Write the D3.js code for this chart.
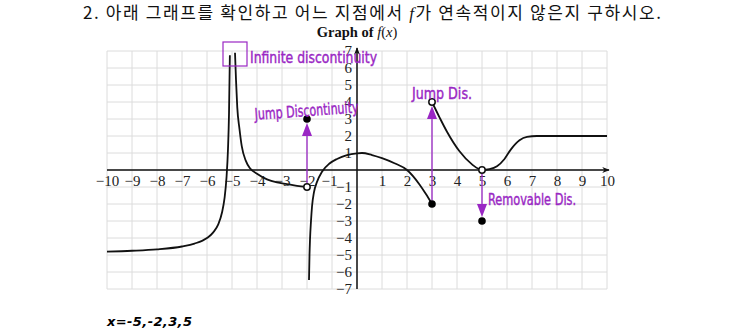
<!DOCTYPE html>
<html>
<head>
<meta charset="utf-8">
<script src="https://cdn.jsdelivr.net/npm/d3@7"></script>
<style>
  body { margin: 0; background: #fff; }
  svg { display: block; }
</style>
</head>
<body>
<svg id="chart" width="743" height="331"></svg>
<script>
// Tick values for the axes
var xTicks = [-10, -9, -8, -7, -6, -5, -4, -3, -2, -1, 1, 2, 3, 4, 5, 6, 7, 8, 9, 10];
var yTicks = [-7, -6, -5, -4, -3, -2, -1, 1, 2, 3, 4, 5, 6, 7];

// Pieces of f(x)
var leftBranch = [[-10, -4.8], [-9, -4.75], [-8, -4.67], [-7, -4.5], [-6.5, -4.33], [-6, -4],
    [-5.75, -3.67], [-5.55, -3.2], [-5.4, -2.5], [-5.3, -1.67], [-5.22, -0.45], [-5.16, 1.25],
    [-5.12, 3.3], [-5.085, 6.75]];
var asymRight = [[-4.88, 6.9], [-4.84, 5.3], [-4.79, 3.7], [-4.7, 2.4], [-4.61, 1.4], [-4.45, 0.55],
    [-4.28, 0.1], [-4, -0.22], [-3.6, -0.55], [-3.2, -0.73], [-2.8, -0.83], [-2.4, -0.93], [-2, -1]];
var midBranch = [[-1.92, -6.47], [-1.9, -5], [-1.88, -4.1], [-1.84, -3], [-1.8, -2.16], [-1.72, -1.3],
    [-1.6, -0.7], [-1.4, -0.1], [-1.1, 0.38], [-0.8, 0.65], [-0.4, 0.88], [0, 0.98], [0.2, 1],
    [0.6, 0.88], [1, 0.7], [1.5, 0.4], [2, 0], [2.5, -0.85], [2.75, -1.4], [3, -2]];
var rightBranch = [[3, 4], [3.3, 3.1], [3.6, 2.25], [4.1, 1.1], [4.6, 0.33], [5, 0], [5.3, 0.05],
    [5.6, 0.22], [5.9, 0.65], [6.15, 1.2], [6.5, 1.75], [6.8, 1.95], [7.2, 2], [8, 2], [10, 2]];

var filledDots = [[-2, 3], [3, -2], [5, -3]];
var openDots = [[-2, -1], [3, 4], [5, 0]];

// Purple arrows: x, start y, end y
var arrows = [[-2, -1, 3], [3, -2, 4], [5, 0, -3]];

// Handwritten notes and where they sit (data coordinates)
var notes = [
    { text: "Infinite discontinuity", x: -4.28, y: 6.3, width: 127, angle: 0 },
    { text: "Jump Discontinuity", x: -4.08, y: 2.95, width: 104, angle: -4 },
    { text: "Jump Dis.", x: 2.2, y: 4.2, width: 60, angle: 0 },
    { text: "Removable Dis.", x: 5.24, y: -2.05, width: 88, angle: 0 }
];

var svg = d3.select("#chart");
var purple = "#9a27c4";

var x = d3.scaleLinear().domain([-10, 10]).range([107, 607]);
var y = d3.scaleLinear().domain([-7, 7]).range([289, 51]);

// Header question and title
svg.append("text")
    .attr("x", 372).attr("y", 19)
    .attr("text-anchor", "middle")
    .attr("font-family", "'Noto Sans CJK KR', sans-serif")
    .attr("font-size", "17px")
    .attr("fill", "#111")
    .attr("textLength", 578)
    .html("2. 아래 그래프를 확인하고 어느 지점에서 <tspan font-family=\"'Liberation Serif', serif\" font-style=\"italic\">f</tspan>가 연속적이지 않은지 구하시오.");

var title = svg.append("text")
    .attr("x", 357).attr("y", 37)
    .attr("text-anchor", "middle")
    .attr("font-family", "'Liberation Serif', serif")
    .attr("font-size", "14.5px")
    .attr("fill", "#111");
title.append("tspan").attr("font-weight", "bold").text("Graph of ");
title.append("tspan").attr("font-style", "italic").text("f");
title.append("tspan").text("(");
title.append("tspan").attr("font-style", "italic").text("x");
title.append("tspan").text(")");

// Grid
svg.append("g").selectAll("line")
    .data(d3.range(-10, 11))
    .enter().append("line")
    .attr("x1", function(d) { return x(d); })
    .attr("x2", function(d) { return x(d); })
    .attr("y1", y(-7)).attr("y2", y(7))
    .attr("stroke", "#dcdcdc").attr("stroke-width", 1);
svg.append("g").selectAll("line")
    .data(d3.range(-7, 8))
    .enter().append("line")
    .attr("y1", function(d) { return y(d); })
    .attr("y2", function(d) { return y(d); })
    .attr("x1", x(-10)).attr("x2", x(10))
    .attr("stroke", "#dcdcdc").attr("stroke-width", 1);

// Arrow marker for axes
svg.append("defs").append("marker")
    .attr("id", "axisArrow")
    .attr("viewBox", "0 0 10 10")
    .attr("refX", 9).attr("refY", 5)
    .attr("markerWidth", 5).attr("markerHeight", 5)
    .attr("orient", "auto")
    .append("path").attr("d", "M0,1 L10,5 L0,9 L3,5 Z").attr("fill", "#111");

svg.append("line")
    .attr("x1", x(-10)).attr("x2", x(10) + 2)
    .attr("y1", y(0)).attr("y2", y(0))
    .attr("stroke", "#111").attr("stroke-width", 1.5)
    .attr("marker-end", "url(#axisArrow)");
svg.append("line")
    .attr("x1", x(0)).attr("x2", x(0))
    .attr("y1", y(-7)).attr("y2", y(7) - 3)
    .attr("stroke", "#111").attr("stroke-width", 1.5)
    .attr("marker-end", "url(#axisArrow)");

// Tick labels through d3 axes
var xAxis = svg.append("g")
    .attr("transform", "translate(0," + y(0) + ")")
    .call(d3.axisBottom(x).tickValues(xTicks).tickSize(0).tickPadding(5));
var yAxis = svg.append("g")
    .attr("transform", "translate(" + (x(0) - 1) + ",0)")
    .call(d3.axisLeft(y).tickValues(yTicks).tickSize(0).tickPadding(4));
[xAxis, yAxis].forEach(function(g) {
    g.select(".domain").remove();
    g.selectAll("text")
        .attr("font-family", "'Liberation Serif', serif")
        .attr("font-size", "15px")
        .attr("fill", "#222");
});
// the two "−1" labels crowd each other near the origin, nudge the x one left
xAxis.selectAll(".tick").filter(function(d) { return d === -1; })
    .select("text").attr("dx", "-0.2em");

// The curve pieces
var line = d3.line()
    .x(function(d) { return x(d[0]); })
    .y(function(d) { return y(d[1]); })
    .curve(d3.curveMonotoneX);

svg.append("g").selectAll("path")
    .data([leftBranch, asymRight, midBranch, rightBranch])
    .enter().append("path")
    .attr("d", line)
    .attr("fill", "none")
    .attr("stroke", "#111")
    .attr("stroke-width", 1.8);

// Purple arrows
var arrowGroup = svg.append("g");
arrows.forEach(function(a) {
    var px = x(a[0]);
    var y0 = y(a[1]);
    var y1 = y(a[2]);
    var dir = y1 < y0 ? 1 : -1;     // 1 means the arrow points up
    var tip = y1 + dir * 4;
    arrowGroup.append("line")
        .attr("x1", px).attr("x2", px)
        .attr("y1", y0 - dir * 3.5).attr("y2", tip + dir * 10)
        .attr("stroke", purple).attr("stroke-width", 1.3);
    arrowGroup.append("path")
        .attr("d", "M" + px + "," + tip +
            " L" + (px - 5) + "," + (tip + dir * 13) +
            " L" + (px + 5) + "," + (tip + dir * 13) + " Z")
        .attr("fill", purple);
});

// Dots
svg.append("g").selectAll("circle")
    .data(filledDots)
    .enter().append("circle")
    .attr("cx", function(d) { return x(d[0]); })
    .attr("cy", function(d) { return y(d[1]); })
    .attr("r", 3.8)
    .attr("fill", "#000");
svg.append("g").selectAll("circle")
    .data(openDots)
    .enter().append("circle")
    .attr("cx", function(d) { return x(d[0]); })
    .attr("cy", function(d) { return y(d[1]); })
    .attr("r", 3.2)
    .attr("fill", "#fff")
    .attr("stroke", "#111")
    .attr("stroke-width", 1.5);

// Purple box around the infinite part
svg.append("rect")
    .attr("x", 223).attr("y", 42)
    .attr("width", 24).attr("height", 24)
    .attr("fill", "none")
    .attr("stroke", purple)
    .attr("stroke-width", 1.2);

// Handwritten notes
svg.append("g").selectAll("text")
    .data(notes)
    .enter().append("text")
    .attr("transform", function(d) {
        return "translate(" + x(d.x) + "," + y(d.y) + ") rotate(" + d.angle + ")";
    })
    .attr("font-family", "'Liberation Sans Narrow', 'DejaVu Sans Condensed', sans-serif")
    .attr("font-size", "16px")
    .attr("fill", purple)
    .attr("stroke", purple)
    .attr("stroke-width", 0.4)
    .attr("textLength", function(d) { return d.width; })
    .attr("lengthAdjust", "spacingAndGlyphs")
    .text(function(d) { return d.text; });

// Answer in the corner
svg.append("text")
    .attr("x", 107).attr("y", 326)
    .attr("font-family", "'DejaVu Sans', sans-serif")
    .attr("font-size", "13px")
    .attr("font-weight", "bold")
    .attr("font-style", "italic")
    .attr("fill", "#000")
    .attr("textLength", 85)
    .text("x=-5,-2,3,5");
</script>
</body>
</html>
